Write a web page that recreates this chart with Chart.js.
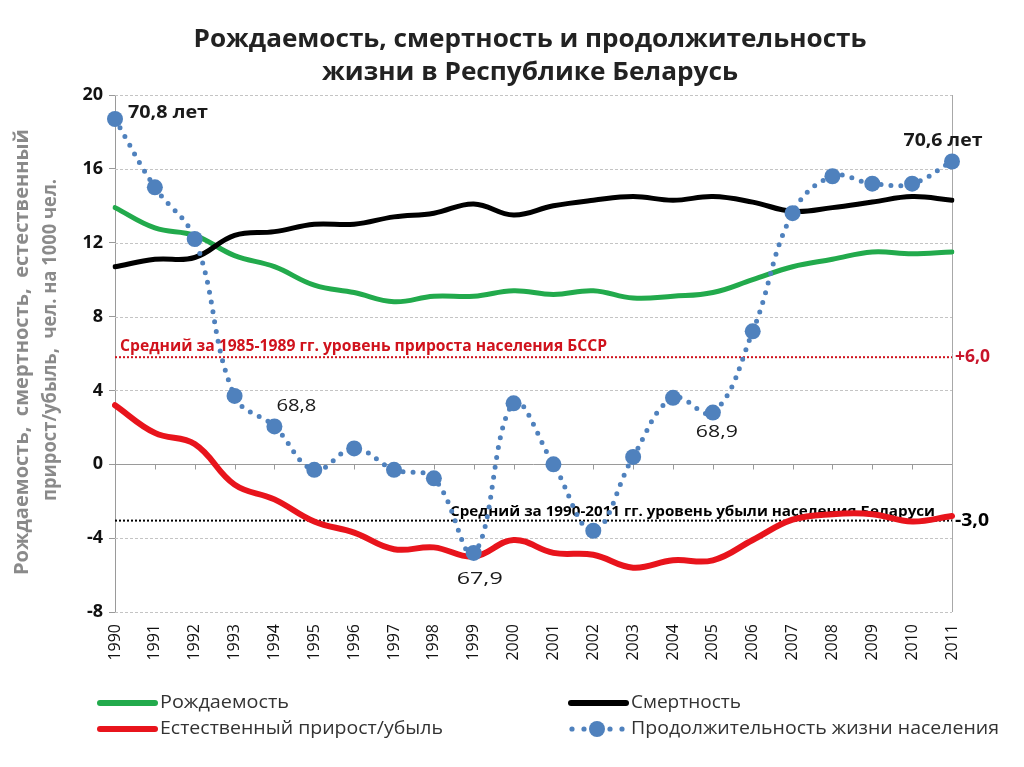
<!DOCTYPE html>
<html><head><meta charset="utf-8">
<script src="https://cdn.jsdelivr.net/npm/chart.js@4/dist/chart.umd.min.js"></script>
<style>html,body{margin:0;padding:0;background:#fff;}#wrap{width:1024px;height:767px;}</style>
</head><body><div id="wrap"><canvas id="c" width="1024" height="767"></canvas></div>
<script>
// ---- DATA ----
const years = ['1990','1991','1992','1993','1994','1995','1996','1997','1998','1999','2000','2001','2002','2003','2004','2005','2006','2007','2008','2009','2010','2011'];
const birthRate = [13.9,12.8,12.4,11.3,10.7,9.7,9.3,8.8,9.1,9.1,9.4,9.2,9.4,9.0,9.1,9.3,10.0,10.7,11.1,11.5,11.4,11.5];
const deathRate = [10.7,11.1,11.2,12.4,12.6,13.0,13.0,13.4,13.6,14.1,13.5,14.0,14.3,14.5,14.3,14.5,14.2,13.7,13.9,14.2,14.5,14.3];
const naturalGrowth = [3.2,1.7,1.1,-1.1,-1.9,-3.1,-3.7,-4.6,-4.5,-5.0,-4.1,-4.8,-4.9,-5.6,-5.2,-5.2,-4.1,-3.0,-2.7,-2.7,-3.1,-2.8];
const lifeExpectancy = [18.7,15.0,12.2,3.7,2.05,-0.3,0.86,-0.3,-0.76,-4.8,3.3,0.0,-3.6,0.4,3.6,2.8,7.2,13.6,15.6,15.2,15.2,16.4];
const yTicks = [-8,-4,0,4,8,12,16,20];
const seriesNames = ['Рождаемость','Смертность','Естественный прирост/убыль','Продолжительность жизни населения'];
const refValues = [5.8, -3.05];
const refTexts = ['Средний за 1985-1989 гг. уровень прироста населения БССР','Средний за 1990-2011 гг. уровень убыли населения Беларуси'];
const refValueLabels = ['+6,0','-3,0'];
const lifeLabelIdx = [0, 4, 9, 15, 21];
const lifeLabelTexts = ['70,8 лет','68,8','67,9','68,9','70,6 лет'];
const titleLines = ['Рождаемость, смертность и продолжительность','жизни в Республике Беларусь'];
const yTitleLines = ['Рождаемость,  смертность,  естественный','прирост/убыль,  чел. на 1000 чел.'];

// ---- STYLE ----
const GREEN='#22aa4c', BLACK='#000000', RED='#e8141c', BLUE='#4f81bd';
const FONT='"Open Sans", "DejaVu Sans", sans-serif';

function fitText(ctx, text, x, y, w, font, color, align){
  ctx.save();
  ctx.font = font; ctx.fillStyle = color; ctx.textBaseline='middle';
  const m = ctx.measureText(text).width;
  const s = w / m;
  ctx.translate(x, y);
  ctx.scale(s, 1);
  ctx.textAlign = align || 'left';
  ctx.fillText(text, 0, 0);
  ctx.restore();
}

const decor = {
  id:'decor',
  beforeDatasetsDraw(chart){
    const {ctx, chartArea:a, scales:{x,y}} = chart;
    ctx.save();
    // horizontal grid
    yTicks.forEach(v=>{
      const py = Math.round(y.getPixelForValue(v))+0.5;
      ctx.beginPath();
      ctx.lineWidth=1;
      if(v===0){ctx.setLineDash([]);ctx.strokeStyle='#9a9a9a';}
      else {ctx.setLineDash([3,2]);ctx.strokeStyle='#c4c4c4';}
      ctx.moveTo(a.left,py);ctx.lineTo(a.right,py);ctx.stroke();
    });
    ctx.setLineDash([]);
    // category ticks on zero line
    const zy = Math.round(y.getPixelForValue(0))+0.5;
    ctx.strokeStyle='#9a9a9a';
    years.forEach((_,i)=>{
      const px=Math.round(x.getPixelForValue(i))+0.5;
      ctx.beginPath();ctx.moveTo(px,zy);ctx.lineTo(px,zy+5);ctx.stroke();
    });
    // right border
    ctx.beginPath();ctx.strokeStyle='#a8a8a8';
    ctx.moveTo(Math.round(a.right)+0.5,a.top);ctx.lineTo(Math.round(a.right)+0.5,a.bottom);ctx.stroke();
    // reference lines
    const refColors=['#d0121c','#000000'];
    refValues.forEach((v,i)=>{
      const py=y.getPixelForValue(v);
      ctx.beginPath();ctx.strokeStyle=refColors[i];ctx.lineWidth=2;ctx.setLineDash([2,2]);
      ctx.moveTo(a.left,py);ctx.lineTo(a.right,py);ctx.stroke();
    });
    ctx.setLineDash([]);
    const py0=y.getPixelForValue(refValues[0]);
    fitText(ctx, refTexts[0], 120, py0-11, 487, 'bold 16px '+FONT, '#d0121c','left');
    fitText(ctx, refValueLabels[0], a.right+3, py0, 35, 'bold 17px '+FONT, '#c8142a','left');
    const py1=y.getPixelForValue(refValues[1]);
    fitText(ctx, refTexts[1], 450, py1-9, 485, 'bold 15px '+FONT, '#000','left');
    ctx.restore();
  },
  afterDatasetsDraw(chart){
    const {ctx, chartArea:a, scales:{x,y}} = chart;
    const py1=y.getPixelForValue(refValues[1]);
    fitText(ctx, refValueLabels[1], a.right+3, py1+1, 34, 'bold 17px '+FONT, '#000','left');
    // life labels
    const offs=[[13,-6,'left',80,true],[22,-20,'center',40,false],[6,26,'center',46,false],[4,20,'center',42,false],[-9,-20,'center',79,true]];
    lifeLabelIdx.forEach((idx,k)=>{
      const px=x.getPixelForValue(idx), py=y.getPixelForValue(lifeExpectancy[idx]);
      const o=offs[k];
      fitText(ctx, lifeLabelTexts[k], px+o[0], py+o[1], o[3], (o[4]?'bold ':'')+'17px '+FONT, '#1a1a1a', o[2]);
    });
    // title
    fitText(ctx, titleLines[0], 530, 40, 673, 'bold 25px '+FONT, '#222', 'center');
    fitText(ctx, titleLines[1], 530, 73, 416, 'bold 25px '+FONT, '#222', 'center');
    // y title (rotated)
    ctx.save();
    ctx.translate(22, 352); ctx.rotate(-Math.PI/2);
    fitText(ctx, yTitleLines[0], 0, 0, 446, 'bold 20px '+FONT, '#8a8a8a', 'center');
    ctx.restore();
    ctx.save();
    ctx.translate(50, 340); ctx.rotate(-Math.PI/2);
    fitText(ctx, yTitleLines[1], 0, 0, 322, 'bold 20px '+FONT, '#8a8a8a', 'center');
    ctx.restore();
    // legend
    ctx.save();
    ctx.lineCap='round';
    const rows=[[97,703,GREEN,0],[568,703,BLACK,1],[97,729,RED,2]];
    const textW=[129,110,283,368];
    rows.forEach(r=>{
      ctx.beginPath();ctx.strokeStyle=r[2];ctx.lineWidth=6;
      ctx.moveTo(r[0]+3,r[1]);ctx.lineTo(r[0]+58,r[1]);ctx.stroke();
      fitText(ctx, seriesNames[r[3]], r[0]+63, r[1], textW[r[3]], '18px '+FONT, '#333','left');
    });
    ctx.fillStyle=BLUE;
    [572,584,610,622].forEach(cx=>{ctx.beginPath();ctx.arc(cx,729,2.6,0,Math.PI*2);ctx.fill();});
    ctx.beginPath();ctx.arc(597,729,8,0,Math.PI*2);ctx.fill();
    fitText(ctx, seriesNames[3], 631, 729, textW[3], '18px '+FONT, '#333','left');
    ctx.restore();
  }
};

new Chart(document.getElementById('c'), {
  type:'line',
  data:{
    labels: years,
    datasets:[
      {label:seriesNames[3], data:lifeExpectancy, borderColor:BLUE, backgroundColor:BLUE, borderWidth:5, borderDash:[0,10], borderCapStyle:'round', tension:0.4, pointRadius:8, pointHoverRadius:8, pointBackgroundColor:BLUE, pointBorderWidth:0, order:0},
      {label:seriesNames[2], data:naturalGrowth, borderColor:RED, borderWidth:6, tension:0.4, pointRadius:0, borderCapStyle:'round', order:1},
      {label:seriesNames[1], data:deathRate, borderColor:BLACK, borderWidth:5, tension:0.4, pointRadius:0, borderCapStyle:'round', order:2},
      {label:seriesNames[0], data:birthRate, borderColor:GREEN, borderWidth:5, tension:0.4, pointRadius:0, borderCapStyle:'round', order:3}
    ]
  },
  options:{
    responsive:false, animation:false, devicePixelRatio:1,
    layout:{padding:{top:95,right:72,bottom:95,left:0}},
    plugins:{legend:{display:false},tooltip:{enabled:false},title:{display:false}},
    scales:{
      x:{type:'category', offset:false,
        grid:{display:false}, border:{display:false},
        ticks:{minRotation:90,maxRotation:90,autoSkip:false,padding:4,color:'#111',font:{family:FONT,size:16}},
        afterFit(s){s.height=60;}
      },
      y:{min:-8,max:20,
        afterBuildTicks(s){s.ticks=yTicks.map(v=>({value:v}));},
        grid:{drawOnChartArea:false,drawTicks:true,tickLength:6,color:'#9a9a9a'},
        border:{display:true,color:'#9a9a9a'},
        ticks:{padding:6,color:'#111',font:{family:FONT,size:18,weight:'bold'}},
        afterFit(s){s.width=115;}
      }
    }
  },
  plugins:[decor]
});
</script></body></html>
